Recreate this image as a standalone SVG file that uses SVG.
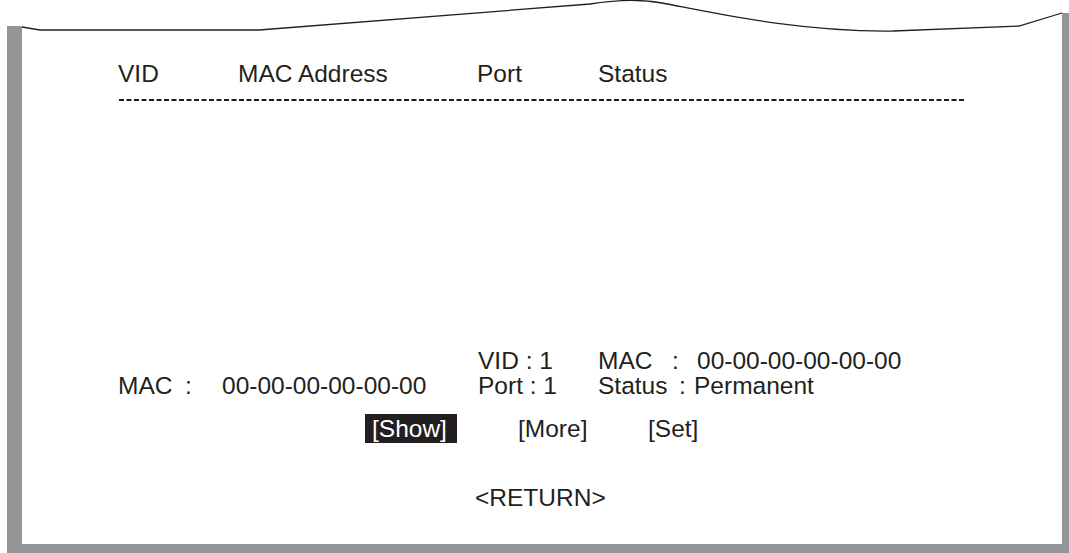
<svg xmlns="http://www.w3.org/2000/svg" width="1069" height="553" viewBox="0 0 1069 553">
<style>
text{font-family:"Liberation Sans",Arial,sans-serif;font-size:24.5px;fill:#231f20}
.w{fill:#ffffff}
.frame{fill:#939598}
</style>
<rect width="1069" height="553" fill="#ffffff"/>
<g id="frame">
<rect class="frame" x="7" y="26" width="15" height="527"/>
<rect class="frame" x="1062" y="13" width="7" height="540"/>
<rect class="frame" x="7" y="544" width="1062" height="9"/>
<path d="M22,27 L40,30 L259,30 L590,4 C615,0 640,-1 662,3 C720,14 800,32 893,31 L1019,26 L1062,13" fill="none" stroke="#231f20" stroke-width="1.3"/>
</g>
<g id="header">
<text x="118" y="82">VID</text>
<text x="238" y="82">MAC Address</text>
<text x="477" y="82">Port</text>
<text x="598" y="82">Status</text>
<line x1="119" y1="100" x2="965" y2="100" stroke="#231f20" stroke-width="2" stroke-dasharray="5,2.5"/>
</g>
<g id="info">
<text x="118" y="394">MAC</text><text x="185" y="394">:</text><text x="222" y="394">00-00-00-00-00-00</text>
<text x="478" y="369">VID : 1</text>
<text x="478" y="394">Port : 1</text>
<text x="598" y="369">MAC</text><text x="672" y="369">:</text><text x="697" y="369">00-00-00-00-00-00</text>
<text x="598" y="394">Status</text><text x="679" y="394">:</text><text x="694" y="394">Permanent</text>
</g>
<g id="show">
<rect x="365" y="414" width="92" height="29" fill="#231f20"/>
<text class="w" x="372" y="437">[Show]</text>
</g>
<g id="more"><text x="518" y="437">[More]</text></g>
<g id="set"><text x="648" y="437">[Set]</text></g>
<g id="return"><text x="475" y="506">&lt;RETURN&gt;</text></g>
</svg>
